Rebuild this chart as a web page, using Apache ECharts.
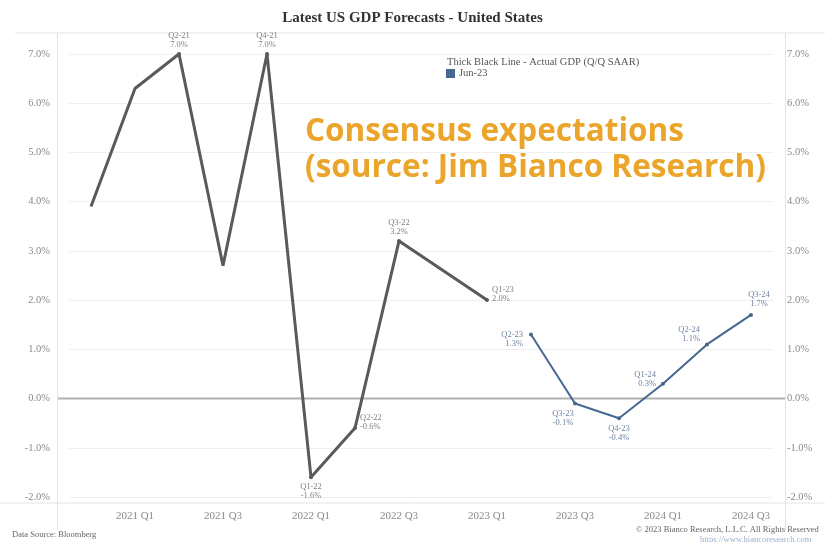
<!DOCTYPE html>
<html>
<head>
<meta charset="utf-8">
<script src="https://cdn.jsdelivr.net/npm/echarts@6/dist/echarts.min.js"></script>
<style>
  html, body { margin: 0; padding: 0; background: #ffffff; }
  #chart { width: 825px; height: 542px; }
</style>
</head>
<body>
<div id="chart"></div>
<script>
// Quarters on the x axis
const quarters = [
  '2020 Q4', '2021 Q1', '2021 Q2', '2021 Q3', '2021 Q4',
  '2022 Q1', '2022 Q2', '2022 Q3', '2022 Q4', '2023 Q1',
  '2023 Q2', '2023 Q3', '2023 Q4', '2024 Q1', '2024 Q2', '2024 Q3'
];
// Actual GDP, Q/Q SAAR (%), 2020 Q4 .. 2023 Q1
const actualGdp = [3.9, 6.3, 7.0, 2.7, 7.0, -1.6, -0.6, 3.2, 2.6, 2.0];
// Consensus forecast as of Jun-23 (%), 2023 Q2 .. 2024 Q3
const forecastJun23 = [1.3, -0.1, -0.4, 0.3, 1.1, 1.7];
// Y axis range and tick step (%)
const yMin = -2, yMax = 7, yStep = 1;

// Which actual points carry a label, and where the label sits
const actualLabelPlace = {
  '2021 Q2': 'top', '2021 Q4': 'top', '2022 Q1': 'bottom',
  '2022 Q2': 'right', '2022 Q3': 'top', '2023 Q1': 'right'
};
// Forecast label placement: [position, align, offset]
const forecastLabelPlace = {
  '2023 Q2': ['left', 'right', [-2, 5]],
  '2023 Q3': ['bottom', 'center', [-12, 0]],
  '2023 Q4': ['bottom', 'center', [0, 0]],
  '2024 Q1': ['left', 'right', [-1, -5]],
  '2024 Q2': ['left', 'right', [-1, -10]],
  '2024 Q3': ['top', 'center', [8, -1]]
};

function shortQuarter(cat) {
  const [yr, q] = cat.split(' ');
  return q + '-' + yr.slice(2);
}

const SERIF = '"Liberation Serif", "DejaVu Serif", serif';
const lineGrey = '#5a5a5a';
const blue = '#46688f';

const actualData = actualGdp.map((v, i) => {
  const cat = quarters[i];
  const place = actualLabelPlace[cat];
  const item = { value: v };
  if (place) {
    item.symbol = 'circle';
    item.symbolSize = 4;
    item.label = {
      show: true,
      position: place,
      offset: place === 'right' ? [0, -6] : [0, 0],
      distance: 3,
      formatter: shortQuarter(cat) + '\n' + v.toFixed(1) + '%',
      color: '#808080',
      fontFamily: SERIF,
      fontSize: 8.5,
      lineHeight: 9,
      align: place === 'right' ? 'left' : 'center'
    };
  } else {
    item.symbol = 'none';
  }
  return item;
});

const forecastData = quarters.map((cat, i) => {
  const k = i - actualGdp.length;
  if (k < 0) return '-';
  const v = forecastJun23[k];
  const [pos, align, off] = forecastLabelPlace[cat];
  return {
    value: v,
    label: {
      show: true,
      position: pos,
      offset: off,
      distance: 4,
      formatter: shortQuarter(cat) + '\n' + v.toFixed(1) + '%',
      color: '#6f84a0',
      fontFamily: SERIF,
      fontSize: 8.5,
      lineHeight: 9,
      align: align
    }
  };
});

const chart = echarts.init(document.getElementById('chart'), null, { renderer: 'canvas' });

chart.setOption({
  animation: false,
  backgroundColor: '#ffffff',
  title: {
    text: 'Latest US GDP Forecasts - United States',
    left: 'center',
    top: 6,
    textStyle: { fontFamily: SERIF, fontWeight: 'bold', fontSize: 15, color: '#333333' }
  },
  legend: {
    data: [{ name: 'Jun-23', icon: 'rect' }],
    left: 446,
    top: 68,
    itemWidth: 9,
    itemHeight: 9,
    itemGap: 4,
    padding: 0,
    textStyle: { fontFamily: SERIF, fontSize: 10.5, color: '#555555', padding: [0, 0, 0, -1] }
  },
  grid: { left: 69, right: 52, top: 54, bottom: 45, containLabel: false },
  xAxis: {
    type: 'category',
    data: quarters,
    boundaryGap: true,
    axisLine: { show: false },
    axisTick: { show: false },
    splitLine: { show: false },
    axisLabel: {
      interval: (idx) => idx % 2 === 1,
      margin: 14,
      color: '#8a8a8a',
      fontFamily: SERIF,
      fontSize: 11
    }
  },
  yAxis: [
    {
      type: 'value', min: yMin, max: yMax, interval: yStep,
      position: 'left',
      axisLine: { show: false }, axisTick: { show: false },
      splitLine: { show: true, lineStyle: { color: '#f0f0f0', width: 1 } },
      axisLabel: {
        margin: 19, color: '#8a8a8a', fontFamily: SERIF, fontSize: 10.5,
        formatter: (v) => v.toFixed(1) + '%'
      }
    },
    {
      type: 'value', min: yMin, max: yMax, interval: yStep,
      position: 'right',
      axisLine: { show: false }, axisTick: { show: false },
      splitLine: { show: false },
      axisLabel: {
        margin: 14, color: '#8a8a8a', fontFamily: SERIF, fontSize: 10.5,
        formatter: (v) => v.toFixed(1) + '%'
      }
    }
  ],
  series: [
    {
      name: 'Actual GDP',
      type: 'line',
      data: actualData,
      lineStyle: { color: lineGrey, width: 3 },
      itemStyle: { color: lineGrey },
      z: 3
    },
    {
      name: 'Jun-23',
      type: 'line',
      data: forecastData,
      symbol: 'circle',
      symbolSize: 4,
      lineStyle: { color: blue, width: 2 },
      itemStyle: { color: blue },
      z: 4
    }
  ],
  graphic: [
    // chart frame
    { type: 'line', shape: { x1: 15, y1: 33, x2: 825, y2: 33 }, style: { stroke: '#e4e4e4', lineWidth: 1 }, silent: true },
    { type: 'line', shape: { x1: 0, y1: 503, x2: 825, y2: 503 }, style: { stroke: '#e4e4e4', lineWidth: 1 }, silent: true },
    { type: 'line', shape: { x1: 57.5, y1: 33, x2: 57.5, y2: 530 }, style: { stroke: '#e4e4e4', lineWidth: 1 }, silent: true },
    { type: 'line', shape: { x1: 785.5, y1: 33, x2: 785.5, y2: 530 }, style: { stroke: '#e4e4e4', lineWidth: 1 }, silent: true },
    // legend heading
    {
      type: 'text', left: 447, top: 57,
      style: { text: 'Thick Black Line - Actual GDP (Q/Q SAAR)', fontFamily: SERIF, fontSize: 10.5, fill: '#555555' }
    },
    // annotation
    {
      type: 'text', left: 305, top: 114,
      style: {
        text: 'Consensus expectations\n(source: Jim Bianco Research)',
        fontFamily: '"Open Sans", Lato, sans-serif', fontWeight: 'bold', fontSize: 31.5,
        lineHeight: 36, fill: '#eba52a'
      }
    },
    // footer
    {
      type: 'text', left: 12, top: 530,
      style: { text: 'Data Source: Bloomberg', fontFamily: SERIF, fontSize: 8.5, fill: '#666666' }
    },
    {
      type: 'text', left: 636, top: 525,
      style: { text: '\u00a9 2023 Bianco Research, L.L.C. All Rights Reserved', fontFamily: SERIF, fontSize: 8.5, fill: '#666666' }
    },
    {
      type: 'text', left: 700, top: 535,
      style: { text: 'https://www.biancoresearch.com', fontFamily: SERIF, fontSize: 8.5, fill: '#9bb0cc' }
    }
  ]
});

// Zero baseline across the full plot frame, placed through the value axis
const zeroY = chart.convertToPixel({ yAxisIndex: 0 }, 0);
chart.setOption({
  graphic: [
    { id: 'zeroLine', type: 'line', z: 1, shape: { x1: 58, y1: zeroY, x2: 785, y2: zeroY },
      style: { stroke: '#b0b0b0', lineWidth: 2 }, silent: true }
  ]
});
</script>
</body>
</html>
